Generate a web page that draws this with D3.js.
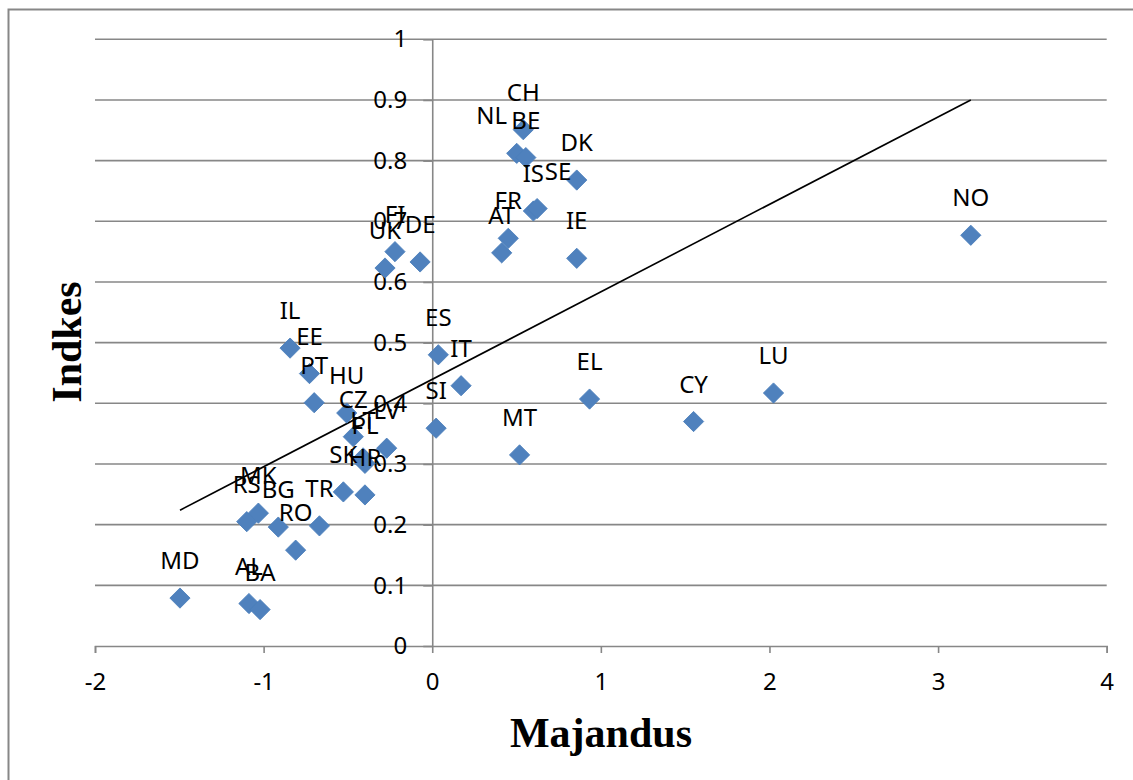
<!DOCTYPE html>
<html>
<head>
<meta charset="utf-8">
<script src="https://cdn.jsdelivr.net/npm/d3@7/dist/d3.min.js"></script>
<style>
  html, body { margin: 0; padding: 0; background: #fff; }
  svg { display: block; }
</style>
</head>
<body>
<svg id="chart" width="1133" height="780"></svg>
<script>
// ---- data ----
const countries = ["MD","AL","BA","RS","MK","BG","RO","TR","SK","HR","LT","PL","LV","CZ","HU","PT","EE","IL",
                   "ES","IT","SI","MT","EL","CY","LU","NO","UK","FI","DE","AT","FR","IS","SE","IE","DK","NL","BE","CH"];
const majandus = [-1.496,-1.087,-1.021,-1.100,-1.031,-0.913,-0.810,-0.669,-0.527,-0.399,-0.410,-0.399,-0.270,-0.468,-0.507,-0.700,-0.728,-0.843,
                   0.036,0.171,0.023,0.518,0.933,1.550,2.024,3.194,-0.280,-0.221,-0.072,0.412,0.451,0.600,0.622,0.857,0.857,0.501,0.555,0.540];
const indkes   = [0.079,0.070,0.060,0.205,0.219,0.196,0.158,0.198,0.254,0.249,0.310,0.301,0.326,0.345,0.384,0.401,0.449,0.491,
                   0.480,0.429,0.359,0.315,0.407,0.370,0.417,0.677,0.623,0.650,0.633,0.648,0.672,0.717,0.721,0.639,0.768,0.812,0.805,0.851];
const xTicks = [-2,-1,0,1,2,3,4];
const yTicks = [0,0.1,0.2,0.3,0.4,0.5,0.6,0.7,0.8,0.9,1];
const xTitle = "Majandus";
const yTitle = "Indkes";

// label nudges (labels moved by hand in the original)
const labelNudge = { SE: 21, NL: -25 };

const svg = d3.select("#chart");
const gray = "#878787";
const x = d3.scaleLinear().domain([-2, 4]).range([95, 1106.7]);
const y = d3.scaleLinear().domain([0, 1]).range([646, 39.3]);

// white background & outer frame (only top/left visible)
svg.append("rect").attr("width",1133).attr("height",780).attr("fill","#fff");
svg.append("rect").attr("x",8.5).attr("y",9.5).attr("width",1400).attr("height",1000)
   .attr("fill","none").attr("stroke",gray).attr("stroke-width",2);

// horizontal gridlines
svg.append("g").selectAll("line").data(yTicks.filter(d => d > 0)).join("line")
  .attr("x1", x(-2)).attr("x2", x(4))
  .attr("y1", d => y(d)).attr("y2", d => y(d))
  .attr("stroke", gray).attr("stroke-width", 1.6);

const font = "'Noto Sans', 'Open Sans', sans-serif";

// x axis (at y = 0)
const xAxis = svg.append("g").attr("transform", `translate(0,${y(0)})`)
  .call(d3.axisBottom(x).tickValues(xTicks).tickFormat(d => String(d)).tickSize(7).tickPadding(20));
// y axis (at x = 0)
const yAxis = svg.append("g").attr("transform", `translate(${x(0)},0)`)
  .call(d3.axisLeft(y).tickValues(yTicks).tickFormat(d => d === 0 ? "0" : d === 1 ? "1" : d.toFixed(1))
        .tickSize(9).tickSizeOuter(0).tickPadding(16));
[xAxis, yAxis].forEach(a => {
  a.select(".domain").attr("stroke", gray).attr("stroke-width", 1.6);
  a.selectAll(".tick line").attr("stroke", gray).attr("stroke-width", 1.6);
  a.selectAll(".tick text").attr("fill", "#000").style("font-family", font).style("font-size", "24px");
});

// linear trend line (least squares) across the data range
const n = majandus.length;
const mx = d3.mean(majandus), my = d3.mean(indkes);
let sxy = 0, sxx = 0;
for (let i = 0; i < n; i++) { sxy += (majandus[i]-mx)*(indkes[i]-my); sxx += (majandus[i]-mx)**2; }
const slope = sxy / sxx, icpt = my - slope * mx;
const [x0, x1] = d3.extent(majandus);
svg.append("line")
  .attr("x1", x(x0)).attr("y1", y(icpt + slope*x0))
  .attr("x2", x(x1)).attr("y2", y(icpt + slope*x1))
  .attr("stroke", "#000").attr("stroke-width", 1.6);

// markers (diamonds)
const pts = countries.map((c, i) => ({ c, vx: majandus[i], vy: indkes[i] }));
svg.append("g").selectAll("path").data(pts).join("path")
  .attr("d", d3.symbol().type(d3.symbolSquare).size(205))
  .attr("transform", d => `translate(${x(d.vx)},${y(d.vy)}) rotate(45)`)
  .attr("fill", "#4F81BD").attr("stroke", "#4A7EBB").attr("stroke-width", 0.8);

// data labels (above the points)
svg.append("g").selectAll("text").data(pts).join("text")
  .attr("x", d => x(d.vx) + (labelNudge[d.c] || 0))
  .attr("y", d => y(d.vy) - 29)
  .attr("text-anchor", "middle")
  .style("font-family", font).style("font-size", "24px").attr("fill", "#000")
  .text(d => d.c);

// axis titles
svg.append("text").attr("x", 601).attr("y", 747).attr("text-anchor", "middle")
  .style("font-family", "'Liberation Serif', 'Times New Roman', serif").style("font-weight", "bold")
  .style("font-size", "42px").text(xTitle);
svg.append("text").attr("transform", "translate(81,342) rotate(-90)").attr("text-anchor", "middle")
  .style("font-family", "'Liberation Serif', 'Times New Roman', serif").style("font-weight", "bold")
  .style("font-size", "42px").text(yTitle);
</script>
</body>
</html>
